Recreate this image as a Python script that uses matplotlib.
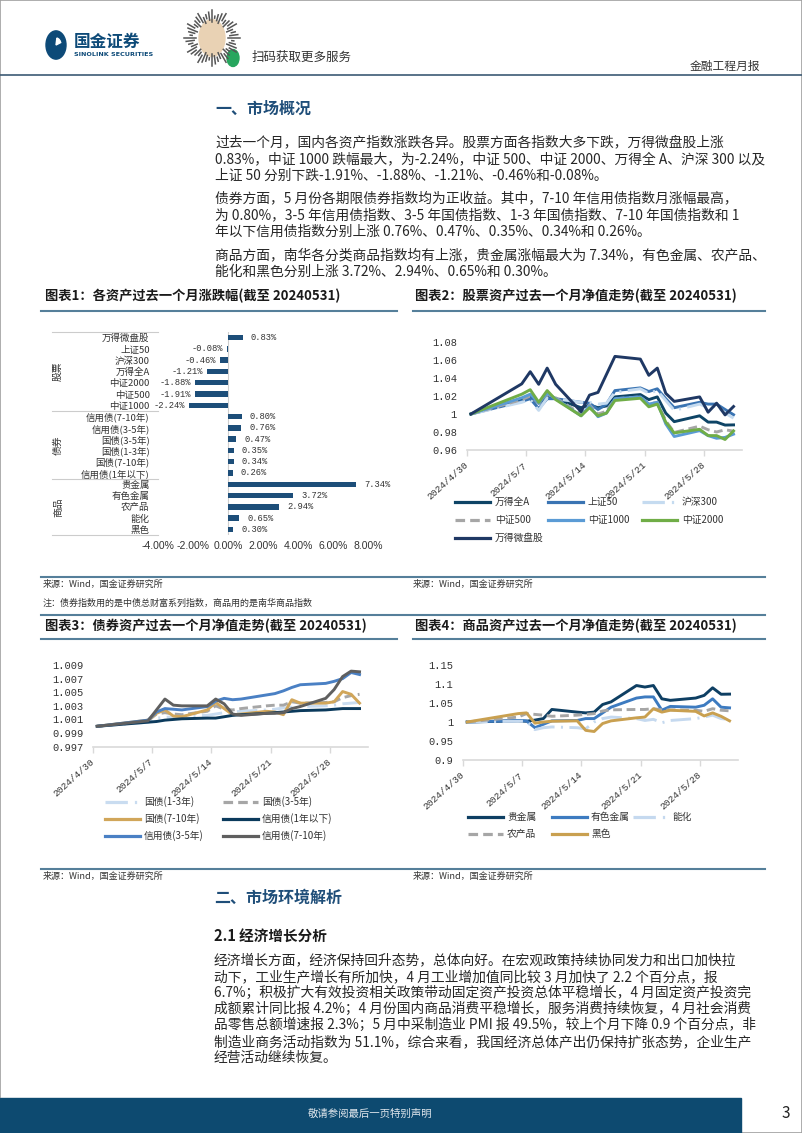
import numpy as np
import pandas as pd
import matplotlib
matplotlib.use("Agg")
import matplotlib.pyplot as plt
from matplotlib.lines import Line2D
from matplotlib.patches import Rectangle, Circle, Wedge

plt.rcParams['font.family'] = ['Noto Sans CJK SC', 'DejaVu Sans']
plt.rcParams['axes.unicode_minus'] = False

# ---------------- data ----------------
bar_labels = ['万得微盘股', '上证50', '沪深300', '万得全A', '中证2000', '中证500', '中证1000',
              '信用债(7-10年)', '信用债(3-5年)', '国债(3-5年)', '国债(1-3年)', '国债(7-10年)',
              '信用债(1年以下)', '贵金属', '有色金属', '农产品', '能化', '黑色']
bar_values = [0.83, -0.08, -0.46, -1.21, -1.88, -1.91, -2.24,
              0.80, 0.76, 0.47, 0.35, 0.34, 0.26,
              7.34, 3.72, 2.94, 0.65, 0.30]
group_names = ['股票', '债券', '商品']
group_sizes = [7, 6, 5]
bar_ticks = [-4, -2, 0, 2, 4, 6, 8]

trade_dates = ['2024-04-30', '2024-05-06', '2024-05-07', '2024-05-08', '2024-05-09', '2024-05-10',
               '2024-05-13', '2024-05-14', '2024-05-15', '2024-05-16', '2024-05-17',
               '2024-05-20', '2024-05-21', '2024-05-22', '2024-05-23', '2024-05-24',
               '2024-05-27', '2024-05-28', '2024-05-29', '2024-05-30', '2024-05-31']
week_ticks = ['2024-04-30', '2024-05-07', '2024-05-14', '2024-05-21', '2024-05-28']
week_labels = ['2024/4/30', '2024/5/7', '2024/5/14', '2024/5/21', '2024/5/28']

# stocks
stock_names = ['万得全A', '上证50', '沪深300', '中证500', '中证1000', '中证2000', '万得微盘股']
wind_a = [1.0, 1.016, 1.019, 1.012, 1.020, 1.017, 1.007, 1.010, 1.007, 1.009, 1.019,
          1.0216, 1.016, 1.019, 1.001, 0.9915, 0.998, 0.991, 0.991, 0.9877, 0.9879]
sz50 = [1.0, 1.014, 1.017, 1.006, 1.017, 1.017, 1.013, 1.012, 1.005, 1.011, 1.026,
        1.029, 1.025, 1.028, 1.017, 1.007, 1.013, 1.011, 1.011, 1.005, 0.9992]
hs300 = [1.0, 1.013, 1.016, 1.004, 1.018, 1.017, 1.013, 1.013, 1.011, 1.012, 1.024,
         1.028, 1.023, 1.026, 1.015, 1.004, 1.011, 1.007, 1.009, 1.001, 0.9954]
zz500 = [1.0, 1.016, 1.020, 1.012, 1.022, 1.018, 1.000, 1.010, 1.000, 1.003, 1.017,
         1.019, 1.011, 1.013, 0.9925, 0.9795, 0.9865, 0.9825, 0.980, 0.9825, 0.9809]
zz1000 = [1.0, 1.018, 1.022, 1.012, 1.023, 1.017, 0.998, 1.009, 0.997, 1.001, 1.017,
          1.019, 1.011, 1.013, 0.989, 0.975, 0.9815, 0.976, 0.973, 0.974, 0.9776]
zz2000 = [1.0, 1.022, 1.027, 1.013, 1.026, 1.016, 0.998, 1.007, 0.998, 1.001, 1.015,
          1.0175, 1.008, 1.011, 0.991, 0.979, 0.983, 0.976, 0.976, 0.9717, 0.9812]
micro_cap = [1.0, 1.0335, 1.047, 1.033, 1.051, 1.033, 1.0026, 1.021, 1.024, 1.044, 1.064,
             1.061, 1.043, 1.051, 1.023, 1.014, 1.019, 1.002, 1.012, 0.999, 1.0083]

# bonds
bond_names = ['国债(1-3年)', '国债(3-5年)', '国债(7-10年)', '信用债(1年以下)', '信用债(3-5年)', '信用债(7-10年)']
gz_1_3 = [1.0, 1.0006, 1.0012, 1.0013, 1.0014, 1.0015, 1.0016, 1.0018, 1.0020, 1.0021, 1.0022,
          1.0024, 1.0025, 1.0027, 1.0028, 1.0029, 1.0030, 1.0031, 1.0033, 1.0034, 1.0035]
gz_3_5 = [1.0, 1.0008, 1.0018, 1.0020, 1.0018, 1.0017, 1.0022, 1.0030, 1.0025, 1.0024, 1.0026,
          1.0030, 1.0031, 1.0031, 1.0036, 1.0034, 1.0035, 1.0036, 1.0042, 1.0045, 1.0047]
gz_7_10 = [1.0, 1.0009, 1.0019, 1.0024, 1.0015, 1.0014, 1.0024, 1.0035, 1.0026, 1.0017, 1.0018,
           1.0022, 1.0021, 1.0017, 1.0039, 1.0034, 1.0034, 1.0036, 1.0051, 1.0047, 1.0034]
xy_1 = [1.0, 1.0006, 1.0007, 1.0009, 1.0010, 1.0011, 1.0012, 1.0012, 1.0014, 1.0016, 1.0017,
        1.0019, 1.0020, 1.0021, 1.0022, 1.0023, 1.0024, 1.0025, 1.0026, 1.0026, 1.0026]
xy_3_5 = [1.0, 1.0009, 1.0021, 1.0026, 1.0025, 1.0024, 1.0029, 1.0037, 1.0041, 1.0039, 1.0040,
          1.0046, 1.0048, 1.0052, 1.0057, 1.0061, 1.0063, 1.0066, 1.0070, 1.0079, 1.0076]
xy_7_10 = [1.0, 1.0008, 1.0024, 1.0040, 1.0031, 1.0030, 1.0030, 1.0040, 1.0033, 1.0018, 1.0016,
           1.0019, 1.0019, 1.0020, 1.0026, 1.0029, 1.0041, 1.0054, 1.0073, 1.0081, 1.0080]

# commodities
comm_names = ['贵金属', '有色金属', '能化', '农产品', '黑色']
precious = [1.0, 1.003, 1.002, 1.005, 1.009, 1.033, 1.026, 1.024, 1.026, 1.046, 1.053,
            1.096, 1.092, 1.096, 1.061, 1.057, 1.063, 1.070, 1.090, 1.073, 1.0734]
nonferrous = [1.0, 1.004, 1.003, 0.985, 0.994, 1.003, 1.004, 1.009, 1.009, 1.024, 1.039,
              1.063, 1.066, 1.066, 1.031, 1.041, 1.039, 1.044, 1.061, 1.039, 1.0372]
energy_chem = [1.0, 1.002, 1.002, 0.980, 0.985, 0.987, 0.985, 0.982, 1.000, 1.009, 1.013,
               1.009, 1.004, 1.007, 0.998, 1.004, 1.009, 1.013, 1.018, 1.009, 1.0065]
agri = [1.0, 1.013, 1.022, 1.020, 1.018, 1.015, 1.018, 1.020, 1.022, 1.029, 1.032,
        1.033, 1.033, 1.035, 1.032, 1.032, 1.031, 1.028, 1.035, 1.031, 1.0294]
ferrous = [1.0, 1.022, 1.024, 0.997, 1.000, 1.002, 1.003, 0.978, 0.975, 0.996, 1.003,
           1.011, 1.013, 1.035, 1.026, 1.031, 1.028, 1.016, 1.024, 1.015, 1.003]

para1 = ['过去一个月，国内各资产指数涨跌各异。股票方面各指数大多下跌，万得微盘股上涨',
         '0.83%，中证 1000 跌幅最大，为-2.24%，中证 500、中证 2000、万得全 A、沪深 300 以及',
         '上证 50 分别下跌-1.91%、-1.88%、-1.21%、-0.46%和-0.08%。']
para2 = ['债券方面，5 月份各期限债券指数均为正收益。其中，7-10 年信用债指数月涨幅最高，',
         '为 0.80%，3-5 年信用债指数、3-5 年国债指数、1-3 年国债指数、7-10 年国债指数和 1',
         '年以下信用债指数分别上涨 0.76%、0.47%、0.35%、0.34%和 0.26%。']
para3 = ['商品方面，南华各分类商品指数均有上涨，贵金属涨幅最大为 7.34%，有色金属、农产品、',
         '能化和黑色分别上涨 3.72%、2.94%、0.65%和 0.30%。']
para4 = ['经济增长方面，经济保持回升态势，总体向好。在宏观政策持续协同发力和出口加快拉',
         '动下，工业生产增长有所加快，4 月工业增加值同比较 3 月加快了 2.2 个百分点，报',
         '6.7%；积极扩大有效投资相关政策带动固定资产投资总体平稳增长，4 月固定资产投资完',
         '成额累计同比报 4.2%；4 月份国内商品消费平稳增长，服务消费持续恢复，4 月社会消费',
         '品零售总额增速报 2.3%；5 月中采制造业 PMI 报 49.5%，较上个月下降 0.9 个百分点，非',
         '制造业商务活动指数为 51.1%，综合来看，我国经济总体产出仍保持扩张态势，企业生产',
         '经营活动继续恢复。']

# ---------------- page ----------------
W, H = 802, 1133
fig = plt.figure(figsize=(W / 100, H / 100), dpi=100)
fig.patch.set_facecolor('white')

NAVY = '#1f4e79'
RULE = '#557f9a'
BODY = '#262626'
MONO = 'Liberation Mono'
BODY_SIZE = 9.9


def txt(x, y, s, **kw):
    kw.setdefault('va', 'center')
    return fig.text(x / W, 1 - y / H, s, **kw)


def hline(x0, x1, y, color=RULE, lw=1.5):
    fig.add_artist(Line2D([x0 / W, x1 / W], [1 - y / H] * 2, color=color, lw=lw))


def add_ax(x0, y0, x1, y1):
    return fig.add_axes([x0 / W, 1 - y1 / H, (x1 - x0) / W, (y1 - y0) / H])


# border
fig.add_artist(Rectangle((0, 0), 1, 1, transform=fig.transFigure, fill=False, ec='#a0a0a0', lw=1.2))

# header
fig.add_artist(Circle((56 / W, 1 - 45 / H), 10 / W, transform=fig.transFigure, color='#0d4a78'))
fig.add_artist(Wedge((56 / W, 1 - 45 / H), 5 / W, 20, 80, transform=fig.transFigure, color='white'))
txt(74, 42, '国金证券', fontsize=12, fontweight='bold', color='#0d4a78')
txt(74, 55, 'SINOLINK SECURITIES', fontsize=4.6, fontweight='bold', color='#0d4a78', family='DejaVu Sans')
qc = (212 / W, 1 - 38 / H)
for k in range(48):
    a = np.deg2rad(k * 7.5)
    r0 = 16 + (k % 3) * 2
    r1 = 28 - (k % 4) * 2
    fig.add_artist(Line2D([qc[0] + r0 * np.cos(a) / W, qc[0] + r1 * np.cos(a) / W],
                          [qc[1] + r0 * np.sin(a) / H, qc[1] + r1 * np.sin(a) / H],
                          color='#555555', lw=1.1))
fig.add_artist(Circle(qc, 13 / W, transform=fig.transFigure, color='#e9d2b4'))
fig.add_artist(Circle((233 / W, 1 - 58 / H), 6 / W, transform=fig.transFigure, color='#27a65e'))
txt(252, 57, '扫码获取更多服务', fontsize=9, color='#333333')
txt(760, 66, '金融工程月报', fontsize=8.5, color='#333333', ha='right')
hline(0, W, 75, color='#3c5a74', lw=1.2)

# section 1 text
txt(215, 109, '一、市场概况', fontsize=11.5, fontweight='bold', color=NAVY)
for lines, ys in [(para1, [142, 159, 176]), (para2, [198, 215, 232]), (para3, [255, 272])]:
    for s, y in zip(lines, ys):
        txt(215, y, s, fontsize=BODY_SIZE, color=BODY)

# chart titles and rules
TITLE = dict(fontsize=9.5, fontweight='bold', color='#1a1a1a')
txt(45, 296, '图表1：各资产过去一个月涨跌幅(截至 20240531)', **TITLE)
txt(415, 296, '图表2：股票资产过去一个月净值走势(截至 20240531)', **TITLE)
hline(41, 397, 311)
hline(413, 765, 311)
hline(41, 765, 577)
txt(43, 584, '来源：Wind，国金证券研究所', fontsize=6.5, color='#333333')
txt(413, 584, '来源：Wind，国金证券研究所', fontsize=6.5, color='#333333')
txt(43, 603, '注：债券指数用的是中债总财富系列指数，商品用的是南华商品指数', fontsize=6.5, color='#333333')
hline(41, 765, 615)
txt(45, 626, '图表3：债券资产过去一个月净值走势(截至 20240531)', **TITLE)
txt(415, 626, '图表4：商品资产过去一个月净值走势(截至 20240531)', **TITLE)
hline(41, 397, 639)
hline(413, 765, 639)
hline(41, 765, 869)
txt(43, 876, '来源：Wind，国金证券研究所', fontsize=6.5, color='#333333')
txt(413, 876, '来源：Wind，国金证券研究所', fontsize=6.5, color='#333333')

# ---------------- chart 1: bars ----------------
ax1 = add_ax(158, 332, 368, 535)
pos = np.arange(len(bar_values))
ax1.barh(pos, bar_values, height=0.48, color='#1d4e79')
ax1.set_xlim(-4, 8)
ax1.set_ylim(len(bar_values) - 0.5, -0.5)
ax1.axvline(0, color='#cfcfcf', lw=0.8, zorder=0)
for s in ax1.spines.values():
    s.set_visible(False)
ax1.set_xticks(bar_ticks)
ax1.set_xticklabels([f'{t:.2f}%' for t in bar_ticks], family='Liberation Sans', fontsize=7.5, color='#333333')
ax1.set_yticks(pos)
ax1.set_yticklabels(bar_labels, fontsize=6.8, color='#333333')
ax1.tick_params(axis='x', length=0, pad=4)
ax1.tick_params(axis='y', length=0, pad=6)
for i, v in enumerate(bar_values):
    if v >= 0:
        ax1.text(v + 0.45, i, f'{v:.2f}%', ha='left', va='center', fontsize=6.3, family=MONO, color='#333333')
    else:
        ax1.text(v - 0.22, i, f'{v:.2f}%', ha='right', va='center', fontsize=6.3, family=MONO, color='#333333')
ytr = ax1.get_yaxis_transform()
start = 0
bounds = [-0.5]
for name, n in zip(group_names, group_sizes):
    ax1.text(-0.476, start + (n - 1) / 2, name, transform=ytr, rotation=90,
             ha='center', va='center', fontsize=7, color='#333333')
    start += n
    bounds.append(start - 0.5)
for b in bounds:
    ax1.plot([-0.505, 0], [b, b], transform=ytr, clip_on=False, color='#cccccc', lw=0.8)

# ---------------- line charts ----------------
dates = pd.to_datetime(trade_dates)
tick_pos = pd.to_datetime(week_ticks) - pd.Timedelta(hours=12)
xlim = (pd.Timestamp('2024-04-29 12:00'), pd.Timestamp('2024-06-01 00:00'))
DASH = (0, (3, 1.6))
DASHDOT = (0, (7, 2.2, 0.7, 2.2))


def line_chart(ax, series, styles, ylim, yticks, ylabels):
    for vals, (color, ls) in zip(series, styles):
        ax.plot(dates, vals, color=color, lw=2.1, linestyle=ls)
    ax.set_xlim(*xlim)
    ax.set_ylim(*ylim)
    ax.set_yticks(yticks)
    ax.set_yticklabels(ylabels, family=MONO, fontsize=7.5, color='#333333')
    ax.set_xticks(tick_pos)
    ax.set_xticklabels(week_labels, family=MONO, fontsize=6.8, color='#333333',
                       rotation=42, ha='right', va='center', rotation_mode='anchor')
    for k in ['top', 'right', 'left']:
        ax.spines[k].set_visible(False)
    ax.spines['bottom'].set_color('#d9d9d9')
    ax.spines['bottom'].set_linewidth(1.2)
    ax.tick_params(axis='y', length=0, pad=7)
    ax.tick_params(axis='x', length=4, color='#d9d9d9', width=1, pad=6)
    ax.patch.set_alpha(0)


def legend_grid(names, styles, cols, rows, dx=40, length=35):
    n = len(cols)
    for i, (name, (color, ls)) in enumerate(zip(names, styles)):
        r, c = divmod(i, n)
        x0, y = cols[c], rows[r]
        fig.add_artist(Line2D([x0 / W, (x0 + length) / W], [1 - y / H] * 2,
                              color=color, lw=2.3, linestyle=ls))
        txt(x0 + dx, y, name, fontsize=7, color='#333333')


stock_styles = [('#0e4466', '-'), ('#3a74b3', '-'), ('#c5dbf0', DASHDOT), ('#a6a6a6', DASH),
                ('#5b9bd5', '-'), ('#70ad47', '-'), ('#1f3864', '-')]
ax2 = add_ax(466.7, 342, 742, 450)
line_chart(ax2, [wind_a, sz50, hs300, zz500, zz1000, zz2000, micro_cap], stock_styles,
           (0.96, 1.08), [0.96, 0.98, 1.0, 1.02, 1.04, 1.06, 1.08],
           ['0.96', '0.98', '1', '1.02', '1.04', '1.06', '1.08'])
legend_grid(stock_names, stock_styles, [455, 548, 642], [502, 520, 538])

bond_styles = [('#c9dcf0', DASHDOT), ('#a6a6a6', DASH), ('#d1a65a', '-'),
               ('#0b3a5c', '-'), ('#4a80c4', '-'), ('#5f5f5f', '-')]
ax3 = add_ax(93, 665, 368, 746.7)
line_chart(ax3, [gz_1_3, gz_3_5, gz_7_10, xy_1, xy_3_5, xy_7_10], bond_styles,
           (0.997, 1.009), [0.997, 0.999, 1.001, 1.003, 1.005, 1.007, 1.009],
           ['0.997', '0.999', '1.001', '1.003', '1.005', '1.007', '1.009'])
legend_grid(bond_names, bond_styles, [105, 223], [802, 819, 836], dx=39)

comm_styles = [('#0e3f63', '-'), ('#3d7bc0', '-'), ('#c5d9ef', DASHDOT),
               ('#a6a6a6', DASH), ('#c9a050', '-')]
ax4 = add_ax(463, 665, 738, 760)
line_chart(ax4, [precious, nonferrous, energy_chem, agri, ferrous], comm_styles,
           (0.9, 1.15), [0.9, 0.95, 1.0, 1.05, 1.1, 1.15],
           ['0.9', '0.95', '1', '1.05', '1.1', '1.15'])
legend_grid(comm_names, comm_styles, [468, 552, 633], [817, 834], dx=39)

# ---------------- section 2 ----------------
txt(214, 898, '二、市场环境解析', fontsize=11.5, fontweight='bold', color=NAVY)
txt(214, 936, '2.1 经济增长分析', fontsize=10.5, fontweight='bold', color='#1a1a1a')
for s, y in zip(para4, [960, 977, 993, 1009, 1025, 1042, 1058]):
    txt(214, y, s, fontsize=BODY_SIZE, color=BODY)

# footer
fig.add_artist(Rectangle((0, 0), 741 / W, 35 / H, transform=fig.transFigure, color='#0d4a70'))
txt(370, 1114, '敬请参阅最后一页特别声明', fontsize=7.5, color='#dfe6ec', ha='center')
txt(786, 1114, '3', fontsize=11, color='#222222', ha='center')

fig.savefig('out.png', dpi=100)
